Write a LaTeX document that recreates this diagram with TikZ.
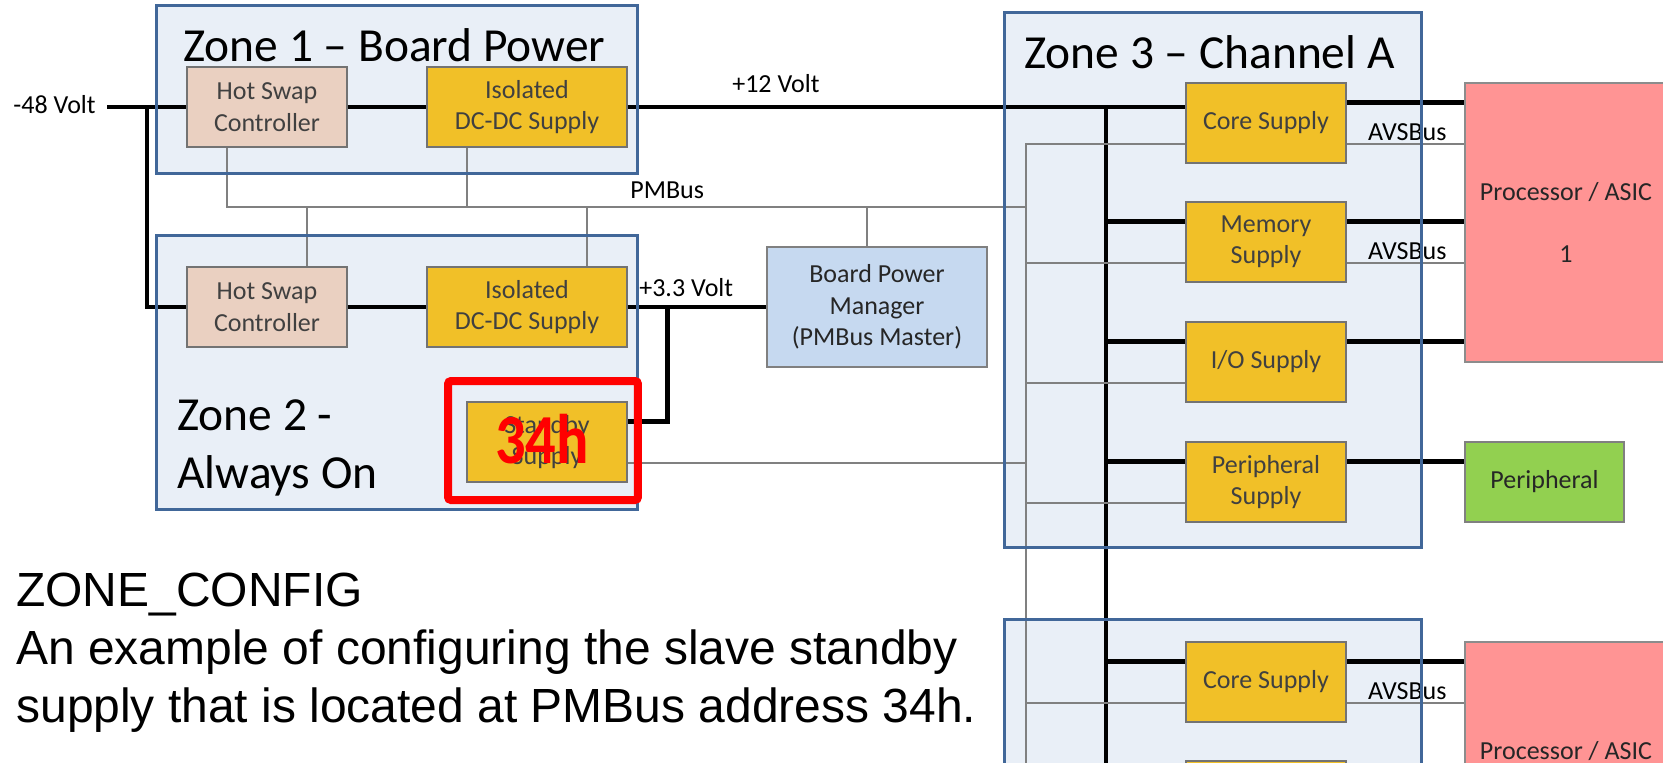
\documentclass[tikz,border=0pt]{standalone}
\usepackage{fontspec}
\setmainfont{Carlito}
\newfontfamily\notefont{Liberation Sans}
\usetikzlibrary{calc}
\definecolor{zoneblue}{RGB}{65,103,153}
\definecolor{zonefill}{RGB}{233,239,247}
\definecolor{supplygold}{RGB}{241,192,40}
\definecolor{swappeach}{RGB}{234,208,193}
\definecolor{managerblue}{RGB}{198,217,240}
\definecolor{asicred}{RGB}{255,148,148}
\definecolor{periphgreen}{RGB}{146,208,80}
\definecolor{busgray}{RGB}{128,128,128}

\begin{document}
\begin{tikzpicture}[
    x=0.02cm, y=-0.02cm,
    zonebox/.style={fill=zonefill, draw=none, inner sep=0},
    zoneedge/.style={draw=zoneblue, line width=0.07cm},
    supplybox/.style={draw=black!55, line width=0.03cm, fill=supplygold, text=black!75, align=center, inner sep=0, minimum width=3.2cm, minimum height=1.6cm, font=\fontsize{14.8pt}{17.9pt}\selectfont},
    swapbox/.style={supplybox, fill=swappeach},
    loadbox/.style={supplybox, draw=black!50, text=black!85},
    power/.style={line width=0.09cm},
    pmbus/.style={draw=busgray, line width=0.04cm},
    buslabel/.style={inner sep=0, font=\fontsize{14.8pt}{17.9pt}\selectfont},
    zonetitle/.style={inner sep=0, align=left, font=\fontsize{27pt}{33pt}\selectfont},
]
\useasboundingbox (0,0) rectangle (1663,762);
\clip (0,0) rectangle (1663,762);

\node[zonebox, minimum width=9.6cm, minimum height=3.34cm] (zoneone) at (397,89.5) {};
\node[zonebox, minimum width=9.6cm, minimum height=5.46cm] (zonetwo) at (397,372.5) {};
\node[zonebox, minimum width=8.32cm, minimum height=10.68cm] (zonethree) at (1213,280) {};
\node[zonebox, minimum width=8.32cm, minimum height=5.6cm] (zonefour) at (1213,760) {};

\node[swapbox] (hsone) at (267,107) {Hot Swap\\Controller};
\node[supplybox, minimum width=4cm] (isoone) at (527,107) {Isolated\\DC-DC Supply};
\node[swapbox] (hstwo) at (267,307) {Hot Swap\\Controller};
\node[supplybox, minimum width=4cm] (isotwo) at (527,307) {Isolated\\DC-DC Supply};
\node[supplybox] (standby) at (547,442) {Standby\\Supply};
\node[loadbox, fill=managerblue, minimum width=4.4cm, minimum height=2.4cm] (bpm) at (877,307) {Board Power\\Manager\\(PMBus Master)};

\node[supplybox] (coreone) at (1266,123) {Core Supply};
\node[supplybox] (memone) at (1266,242) {Memory\\Supply};
\node[supplybox] (ioone) at (1266,362) {I/O Supply};
\node[supplybox] (perone) at (1266,482) {Peripheral\\Supply};
\node[supplybox] (coretwo) at (1266,682) {Core Supply};
\node[supplybox] (memtwo) at (1266,801) {};

\node[loadbox, fill=asicred, draw=black!45, minimum width=4.04cm, minimum height=5.58cm] (procone) at (1566,222.5) {Processor / ASIC\\[17.9pt]1};
\node[loadbox, fill=asicred, draw=black!45, minimum width=4.04cm, minimum height=5.58cm] (proctwo) at (1566,781.5) {Processor / ASIC\\[17.9pt]\phantom{1}};
\node[loadbox, fill=periphgreen, minimum width=3.18cm] (periph) at (1544.5,482) {Peripheral};

\coordinate (minusfeed) at (107,107);
\coordinate (railend) at (1106,775);
\coordinate (pmbusjoin) at (1026,207);
\coordinate (pmbusend) at (1026,775);

\draw[power] (minusfeed) -- (hsone.west);
\draw[power] ($(minusfeed)+(40,0)$) |- (hstwo.west);
\draw[power] (hsone.east) -- (isoone.west);
\draw[power] (hstwo.east) -- (isotwo.west);
\draw[power] (isoone.east) -- (isoone.east -| coreone.west);
\draw[power] (isoone.east -| railend) -- (railend);
\draw[power] (isotwo.east) -- (bpm.west);
\draw[power] ($(isotwo.east)+(40,0)$) |- ($(standby.north east)+(0,20)$);

\draw[power] ($(memone.north west)+(0,20)$) -| (railend);
\draw[power] ($(ioone.north west)+(0,20)$) -| (railend);
\draw[power] ($(perone.north west)+(0,20)$) -| (railend);
\draw[power] ($(coretwo.north west)+(0,20)$) -| (railend);

\draw[power] ($(coreone.north east)+(0,20)$) coordinate (coreoneout) -- (coreoneout -| procone.west);
\draw[power] ($(memone.north east)+(0,20)$) coordinate (memoneout) -- (memoneout -| procone.west);
\draw[power] ($(ioone.north east)+(0,20)$) coordinate (iooneout) -- (iooneout -| procone.west);
\draw[power] ($(perone.north east)+(0,20)$) coordinate (peroneout) -- (peroneout -| periph.west);
\draw[power] ($(coretwo.north east)+(0,20)$) coordinate (coretwoout) -- (coretwoout -| proctwo.west);

\draw[pmbus] ($(hsone.south)+(-40,0)$) |- (pmbusjoin);
\draw[pmbus] ($(isoone.south)+(-60,0)$) |- (pmbusjoin);
\draw[pmbus] ($(hstwo.north)+(40,0)$) |- (pmbusjoin);
\draw[pmbus] ($(isotwo.north)+(60,0)$) |- (pmbusjoin);
\draw[pmbus] ($(bpm.north)+(-10,0)$) |- (pmbusjoin);
\draw[pmbus] ($(standby.south east)+(0,-20)$) -| (pmbusend);
\draw[pmbus] ($(coreone.south west)+(0,-20)$) -| (pmbusend);
\draw[pmbus] ($(memone.south west)+(0,-20)$) -| (pmbusend);
\draw[pmbus] ($(ioone.south west)+(0,-20)$) -| (pmbusend);
\draw[pmbus] ($(perone.south west)+(0,-20)$) -| (pmbusend);
\draw[pmbus] ($(coretwo.south west)+(0,-20)$) -| (pmbusend);

\draw[pmbus] ($(coreone.south east)+(0,-20)$) coordinate (coreoneavs) -- (coreoneavs -| procone.west);
\draw[pmbus] ($(memone.south east)+(0,-20)$) coordinate (memoneavs) -- (memoneavs -| procone.west);
\draw[pmbus] ($(coretwo.south east)+(0,-20)$) coordinate (coretwoavs) -- (coretwoavs -| proctwo.west);

\node[buslabel, anchor=base east] (minuslabel) at (96,113) {-48 Volt};
\node[buslabel, anchor=base west] (twelvelabel) at (732,92) {+12 Volt};
\node[buslabel, anchor=base west] (pmbuslabel) at (630,198) {PMBus};
\node[buslabel, anchor=base west] (threelabel) at (639,296) {+3.3 Volt};
\node[buslabel, anchor=base west] (avsone) at ($(coreoneavs)+(21,-3)$) {AVSBus};
\node[buslabel, anchor=base west] (avstwo) at ($(memoneavs)+(21,-3)$) {AVSBus};
\node[buslabel, anchor=base west] (avsthree) at ($(coretwoavs)+(21,-3)$) {AVSBus};

\draw[zoneedge] (zoneone.north west) rectangle (zoneone.south east);
\draw[zoneedge] (zonetwo.north west) rectangle (zonetwo.south east);
\draw[zoneedge] (zonethree.north west) rectangle (zonethree.south east);
\draw[zoneedge] (zonefour.north west) rectangle (zonefour.south east);

\node[zonetitle, anchor=base west] (titleone) at (183,61) {Zone 1 – Board Power};
\node[zonetitle, anchor=base west] (titlethree) at (1024,68) {Zone 3 – Channel A};
\node[zonetitle, anchor=north west] (titletwo) at (177,399) {Zone 2 -\\Always On};

\node[draw=red, line width=0.16cm, rounded corners=0.06cm, minimum width=3.8cm, minimum height=2.38cm, inner sep=0] (highlight) at (543,440.5) {};
\node[inner sep=0, text=red, font=\bfseries\fontsize{40pt}{40pt}\selectfont, anchor=base] (address) at (542,463) {\scalebox{0.86}[1]{34h}};

\node[anchor=north west, inner sep=0, align=left, font=\notefont\fontsize{27.3pt}{33pt}\selectfont] (note) at (16,573) {ZONE\_CONFIG\\An example of configuring the slave standby\\supply that is located at PMBus address 34h.};

\end{tikzpicture}
\end{document}
